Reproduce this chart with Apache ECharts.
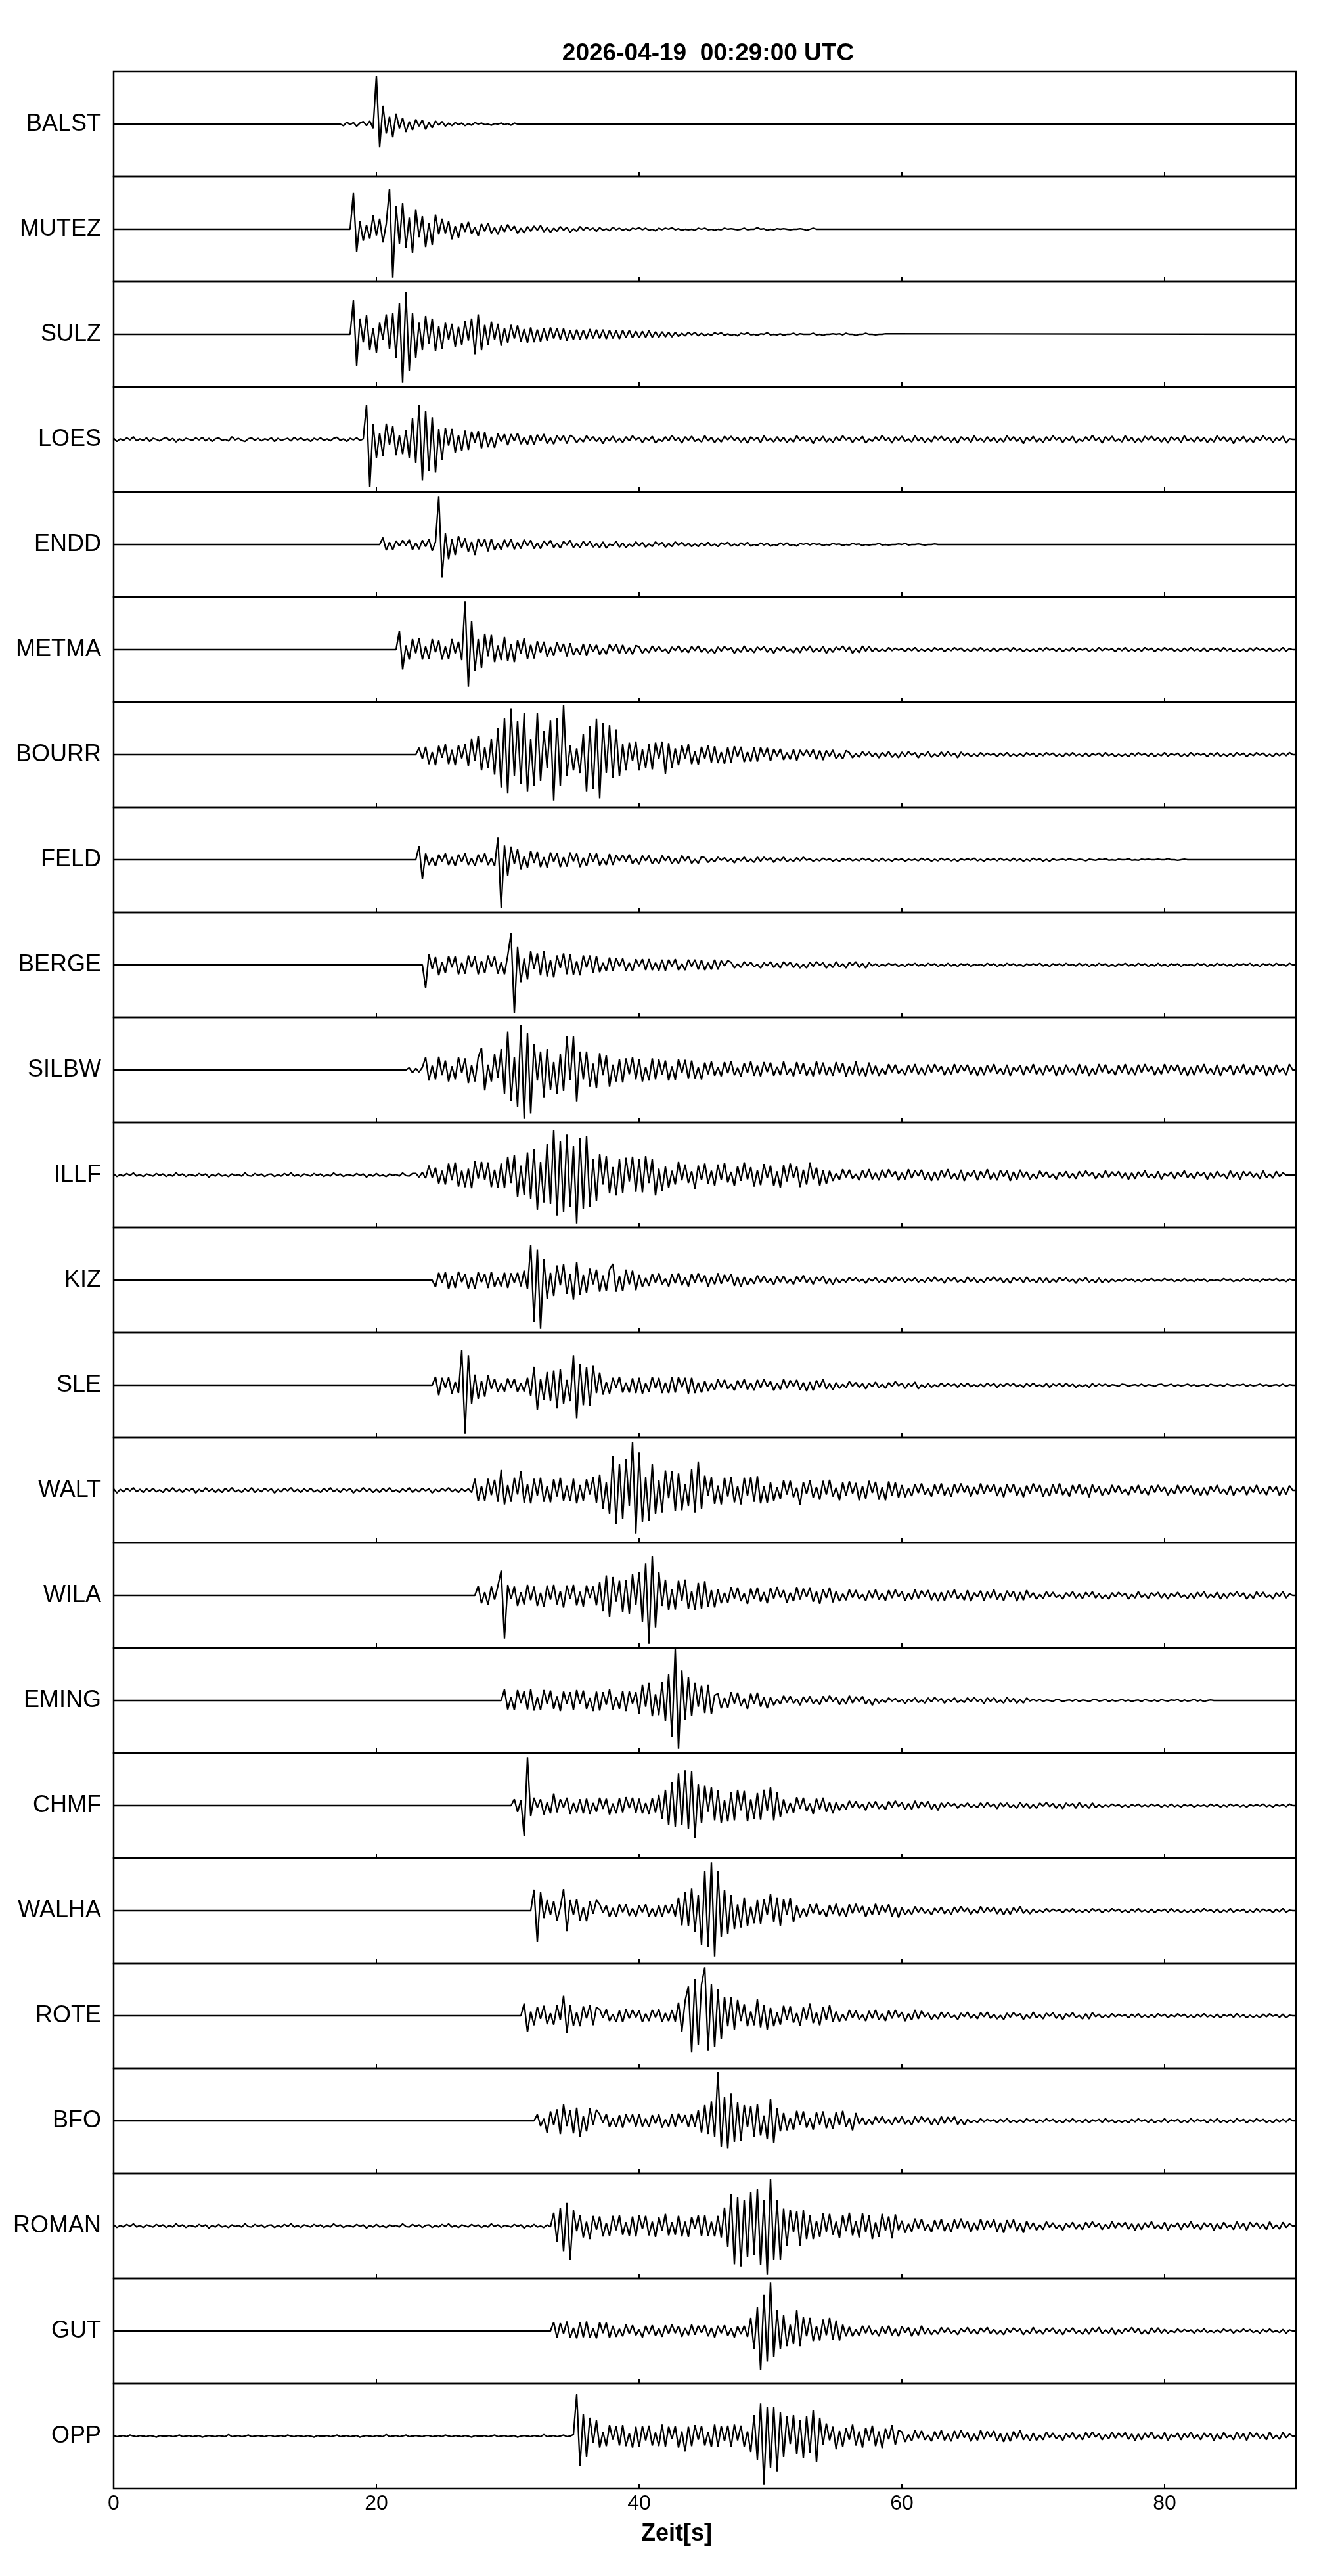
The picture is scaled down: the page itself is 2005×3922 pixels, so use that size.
<!DOCTYPE html>
<html>
<head>
<meta charset="utf-8">
<script src="https://cdn.jsdelivr.net/npm/echarts@6/dist/echarts.min.js"></script>
<style>
html,body{margin:0;padding:0;background:#fff;}
#chart{width:2005px;height:3922px;}
</style>
</head>
<body>
<div id="chart"></div>
<script>
const titleText = '2026-04-19  00:29:00 UTC';
const xAxisName = 'Zeit[s]';
const stations = ['BALST','MUTEZ','SULZ','LOES','ENDD','METMA','BOURR','FELD','BERGE','SILBW','ILLF','KIZ','SLE','WALT','WILA','EMING','CHMF','WALHA','ROTE','BFO','ROMAN','GUT','OPP'];
// start time (s) of each sampled trace; samples every sampleStep seconds
const startTimes = [17,18,18,0,20,21,23,23,23,22,0,24,24,0,27,29,30,31,31,32,0,33,0];
const sampleStep = 0.25;
const timeRange = [0, 90];
const tickStep = 20;

const BALST = [0,0,-3,4, -1,3,-4,2, 5,-3,6,-8, 92,-44,35,-18, 14,-25,20,-8, 12,-15,5,-11, 9,-4,8,-10, 3,-7,6,-2, 5,-4,2,-3, 3,-1,2,-3, 1,-2,3,0, 2,-1,0,-2, 1,0,2,-1, 1,-2,2,0];

const MUTEZ = [0,69,-43,15, -22,8,-18,26, -12,20,-25,10, 77,-92,45,-28, 50,-35,22,-45, 38,-15,25,-34, 12,-30,28,-10, 20,-8,15,-19, 6,-16,12,-5, 14,-9,4,-13, 10,-4,12,-8, 3,-10,7,-5, 9,-3,6,-8, 2,-7,5,-4, 6,-2,7,-5, 3,-6,2,-4, 5,-2,4,-6, 1,-4,5,-2, 4,-1,2,-4, 3,-2,1,-3, 4,-1,2,-2, 1,-3,2,0, 3,-1,2,-2, 0,-3,2,-1, 2,0,3,-1, 1,-2,0,-1, 0,-2,2,0, 2,-1,0,-2, 0,-1,2,0, 1,0,-1,0, 2,-1,0,0, 3,0,1,-2, 0,-1,1,0, 1,0,-1,0, 0,1,0,-2, 0,2,0,0];

const SULZ = [0,65,-60,30, -15,36,-30,12, -35,22,-10,38, -28,40,-45,60, -92,80,-70,40, -45,22,-30,35, -18,30,-32,15, -28,22,-10,20, -24,14,-20,25, -12,30,-38,38, -30,18,-20,24, -10,20,-22,12, -16,18,-8,17, -14,10,-16,13, -15,9,-14,12, -12,13,-8,12, -10,11,-12,7, -10,9,-10,8, -9,10,-8,9, -8,9,-9,8, -8,7,-9,8, -7,8,-7,6, -7,6,-6,7, -6,5,-6,5, -5,4,-5,4, -4,2,-3,4, -1,4,-3,2, -3,1,-2,3, 0,3,-2,1, -2,0,-3,2, 0,3,-1,0, -2,1,0,3, -1,0,-1,1, -2,0,0,2, -1,1,0,0, 0,2,-1,0, -2,0,0,1, 0,1,-1,2, 0,0,-2,0, 0,2,0,0, -1,0,0,1];

const LOES = [2,-4,1,-2, 3,-1,5,-3, 1,-2,3,-4, 2,0,-3,1, 4,-2,2,-5, 1,-3,2,0, -2,3,-1,4, -3,2,-4,1, 3,-2,0,-3, 5,-1,2,-2,
 -4,1,3,-2, 2,-3,1,-1, 3,-4,2,-2, 0,2,-3,4, -1,3,-2,1, -4,2,-1,3, -2,1,-3,2, 4,-2,1,-4, 2,-1,3,-2, 1,66,-91,30,
 -35,12,-32,30, -10,25,-30,8, -28,18,-35,40, -45,66,-78,55, -60,42,-63,20, -40,22,-12,20, -25,8,-22,17, -20,15,-6,16, -17,14,-15,5, -16,11,-4,10,
 -11,10,-3,12, -9,4,-10,8, -10,9,-3,10, -8,3,-9,7, -2,7,-8,8,
 4,-6,2,-5,7,-2,5,-4,3,-8,4,-3,6,-5,2,-6, 5,-3,7,-1,4,-6,3,-2,6,-7,1,-4,5,-3,8,-2, 3,-7,5,-2,6,-4,1,-5,7,-3,4,-6,2,-5,6,-1, 6,-2,4,-5,3,-7,5,-1,4,-6,7,-3,2,-5,5,-4,
 4,-6,2,-5,7,-2,5,-4,3,-8,4,-3,6,-5,2,-6, 5,-3,7,-1,4,-6,3,-2,6,-7,1,-4,5,-3,8,-2, 3,-7,5,-2,6,-4,1,-5,7,-3,4,-6,2,-5,6,-1, 6,-2,4,-5,3,-7,5,-1,4,-6,7,-3,2,-5,5,-4,
 4,-6,2,-5,7,-2,5,-4,3,-8,4,-3,6,-5,2,-6, 5,-3,7,-1,4,-6,3,-2,6,-7,1,-4,5,-3,8,-2, 3,-7,5,-2,6,-4,1,-5,7,-3,4,-6,2,-5,6,-1, 6,-2,4,-5,3,-7,5,-1,4,-6,7,-3,2,-5,5,-4,
 4,-6,2,-5,7,-2,5,-4,3,-8,4,-3,6,-5,2,-6, 5,-3,7,-1,4,-6,3,-2,6,-7,1,0];

const ENDD = [0,0,13,-11, 4,-10,7,-3, 8,-2,9,-10, 3,-9,8,-4, 10,-12,5,92, -63,21,-28,10, -20,16,-6,12, -14,5,-20,11, -4,10,-13,11, -11,3,-10,9, -5,10,-9,4, -8,9,-2,8, -8,3,-8,7, -2,8,-6,3, -7,6,-1,8, -6,2,-6,6, -3,6,-5,2, -6,5,-7,1, -2,6,-5,3, -6,1,-4,5, -3,4,-5,1, -4,5,-1,4, -5,2,-4,5, -1,4,-3,2, -4,1,-4,3, -2,4,-3,1, -4,3,0,4, -3,1,-3,3, -1,4,-3,0, -2,3,-1,2, -3,0,-2,3, -1,3,-2,0, -3,2,0,2, -1,2,0,1, -2,0,-1,2, 0,1,-2,0, -1,2,0,1, -2,0,-1,0, 0,2,-1,0, -1,0,0,1, 0,2,-1,0, 0,1,0,-1, 0,0,1,0];

const METMA = [0,0,0,36, -38,8,-19,20, -7,22,-19,6, -18,20,-5,17, -19,6,-18,20, -7,15,-20,92, -71,55,-41,20, -35,30,-13,28, -24,8,-20,24, -22,10,-24,18, -8,22,-18,9, -17,16,-6,15, -14,5,-12,14, -4,11,-13,12, -11,3,-10,11, -12,10,-4,9, -10,3,-9,10, -2,10,-8,9, -8,4,-9,8,
 5,-7,2,-6,7,-3,6,-4,1,-7,5,-2,7,-5,3,-6, 6,-2,7,-5,3,-6,1,-7,5,-3,6,-1,4,-7,2,-5, 7,-4,2,-6,5,-1,6,-5,3,-7,4,-2,6,-4,1,-6, 4,-6,6,-2,7,-5,2,-4,6,-7,3,-5,5,-1,7,-3, 5,-7,2,-6,7,-3,6,-4,
 3,-4,1,-3,4,-2,3,-1,2,-4,3,-2,4,-3,1,-3, 2,-3,4,-1,3,-4,2,-2,4,-1,3,-3,1,-4,3,-2, 4,-2,1,-3,3,-4,2,-1,3,-3,4,-2,2,-4,1,-3, 1,-4,3,-2,4,-1,2,-3,3,-4,1,-2,4,-3,2,-1,
 3,-4,1,-3,4,-2,3,-1,2,-4,3,-2,4,-3,1,-3, 2,-3,4,-1,3,-4,2,-2,4,-1,3,-3,1,-4,3,-2, 4,-2,1,-3,3,-4,2,-1,3,-3,4,-2,2,-4,1,-3, 1,-4,3,-2,4,-1,2,-3,3,-4,1,-2,4,-3,2,0];

const BOURR = [0,13,-8,15, -18,5,-20,17, -6,20,-18,9, -20,18,-7,20, -22,30,-12,36, -30,14,-26,30, -38,50,-62,70, -74,88,-40,65, -55,79,-71,30, -60,79,-50,45, -25,66,-87,70, -60,94,-40,18, -30,12,-35,40, -71,55,-65,69, -83,60,-35,56, -45,48,-41,20, -30,23,-12,25, -30,10,-25,20, -28,23,-8,25, -36,22,-25,12, -20,18,-7,20, -18,6,-19,15, -7,18,-15,16, -16,5,-17,14, -15,16,-4,15, -14,5,-13,14, -13,14,-4,13, -12,11,-3,11, -10,4,-9,10, -11,9,-2,9, -3,10,-9,8, -10,8,-3,9, -8,2,-8,8,
 4,-6,2,-5,6,-2,5,-4,3,-6,4,-3,6,-5,2,-6, 5,-3,6,-1,4,-6,3,-2,6,-5,1,-4,5,-3,6,-2, 3,-6,5,-2,
 3,-4,1,-3,4,-2,3,-1,2,-4,3,-2,4,-3,1,-3, 2,-3,4,-1,3,-4,2,-2,4,-1,3,-3,1,-4,3,-2, 4,-2,1,-3,3,-4,2,-1,3,-3,4,-2,2,-4,1,-3, 1,-4,3,-2,4,-1,2,-3,3,-4,1,-2,4,-3,2,-1,
 3,-4,1,-3,4,-2,3,-1,2,-4,3,-2,4,-3,1,-3, 2,-3,4,-1,3,-4,2,-2,4,-1,3,-3,1,-4,3,-2, 3,-2,4,0];

const FELD = [0,26,-37,12, -10,4,-12,10, -3,12,-10,5, -12,10,-4,12, -10,3,-12,10, -5,12,-10,3, -12,42,-92,27, -30,25,-8,20, -18,7,-15,17, -6,15,-14,5, -15,14,-4,13, -14,5,-13,14, -3,12,-14,4, -12,13,-4,12, -11,3,-10,11, -10,9,-2,9, -3,10,-8,3, -9,8,-2,8, -8,3,-8,8, -2,7,-8,3, -7,8,-2,7, -7,1,-7,6,
 4,-5,2,-4,5,-1,4,-3,2,-6,3,-2,5,-4,1,-5, 5,-3,5,-1,4,-5,3,-2,5,-4,1,-3,4,-2,5,-1,
 2,-3,1,-2,3,-1,2,-3,1,-3,2,-1,3,-2,1,-2, 3,-1,2,-3,1,-2,3,-2,1,-3,2,-1,2,-3,1,-1, 1,-2,3,-1,2,-3,1,-2,3,-1,2,-2,1,-3,2,-1, 2,-1,3,-2,1,-3,2,-1,2,-2,3,-1,1,-2,3,-2, 2,-3,1,-2,3,-1,2,-3,1,-3,2,-1,
 0,1,-1,2, 0,-1,1,0, -2,1,0,-1, 1,0,2,-1, 0,-1,1,0, 0,2,-1,0, -1,1,0,1, 0,0,1,0, 0,2,0,0, -1,0,1,0];

const BERGE = [0,0,0,-44, 21,-8,15,-20, 6,-16,17,-5, 16,-18,4,-17, 18,-5,16,-18, 7,-16,18,-4, 16,-17,5,-18, 18,60,-92,34, -33,12,-28,26, -8,22,-20,26, -22,9,-24,18, -6,22,-18,20, -19,7,-20,18, -5,18,-16,17, -14,4,-12,14, -12,13,-3,12, -11,4,-12,11, -3,11,-10,11, -10,4,-11,10, -11,10,-3,11, -10,2,-10,10, -3,10,-9,9, -10,4,-9,10, -9,8,-2,8,
 5,-6,2,-5,6,-2,5,-4,1,-6,4,-2,6,-5,3,-6, 6,-2,5,-5,3,-6,1,-6,5,-3,6,-1,4,-6,2,-5, 6,-4,2,-6,5,-1,6,-5,3,-6,4,-2,
 2,-3,1,-2,3,-1,2,-3,1,-3,2,-1,3,-2,1,-2, 3,-1,2,-3,1,-2,3,-2,1,-3,2,-1,2,-3,1,-1, 1,-2,3,-1,2,-3,1,-2,3,-1,2,-2,1,-3,2,-1, 2,-1,3,-2,1,-3,2,-1,2,-2,3,-1,1,-2,3,-2,
 2,-3,1,-2,3,-1,2,-3,1,-3,2,-1,3,-2,1,-2, 3,-1,2,-3,1,-2,3,-2,1,-3,2,-1,2,-3,1,-1, 1,-2,3,-1,2,-3,1,-2,3,-1,2,-2,1,-3,2,-1, 2,-1,3,-2,1,-3,2,-1,2,-2,3,-1,1,-2,3,0];

const SILBW = [0,0,4,-5, 3,-4,5,24, -20,8,-18,25, -10,18,-22,7, -18,24,-6,22, -25,9,-22,24, 42,-39,10,-22, 30,-15,40,-45, 73,-60,25,-70, 86,-92,70,-83, 50,-20,35,-52, 40,-38,15,-45, 30,-40,65,-20, 64,-61,35,-18, 35,-32,12,-35, 32,-10,28,-32, 10,-22,20,-24, 22,-8,24,-18, 20,-22,6,-20, 22,-18,20,-9, 18,-20,7,-19, 20,-6,19,-17, 18,-17,5,-18,
 14,-8,16,-11,5,-12,15,-6,17,-10,4,-12, 13,-5,16,-11,8,-12,15,-4,14,-11,6,-10, 16,-9,3,-12,15,-7,13,-11,5,-12,16,-8, 14,-10,6,-11,15,-5,13,-12,7,-9,16,-11, 4,-12,14,-8,
 8,-11,3,-9,11,-4,10,-7,2,-10,9,-5,11,-8,4,-10, 10,-5,11,-3,7,-10,4,-8,11,-6,9,-2,10,-9,5,-11, 6,-10,9,-4,11,-7,3,-9,10,-11,5,-3,9,-10,7,-5, 11,-8,4,-10,9,-3,8,-11,6,-9,10,-4,3,-10,11,-7,
 8,-11,3,-9,11,-4,10,-7,2,-10,9,-5,11,-8,4,-10, 10,-5,11,-3,7,-10,4,-8,11,-6,9,-2,10,-9,5,-11, 6,-10,9,-4,11,-7,3,-9,10,-11,5,-3,9,-10,7,-5, 11,-8,4,-10,9,-3,8,-11,6,-9,10,-4,3,-10,11,0];

const ILLF = [2,-3,1,-2,3,-1,4,-2,1,-3,2,0,-2,3,-1,2, -3,1,-2,4,-1,2,-3,1,0,-2,3,-1,2,-4,1,-2, 3,-2,0,-3,2,-1,1,-2,4,-1,-2,3,-1,2,-3,1, 2,-3,1,-2,3,-1,4,-2,1,-3,2,0,-2,3,-1,2, -3,1,-2,4,-1,2,-3,1,0,-2,3,-1,2,-4,1,-2, 3,-2,0,-3,2,-1,1,-2,4,-1,-2,3,
 3,-4,5,-6, 18,-5,14,-16, 8,-18,22,-10, 24,-22,8,-23, 12,-25,26,-7, 25,-9,24,-23, 10,-24,22,-25, 35,-15,38,-42, 18,-38,43,-45, 50,-66,25,-52, 60,-55,86,-77, 65,-70,77,-60, 55,-92,70,-64, 75,-60,30,-50, 40,-18,36,-35, 15,-39,30,-34, 33,-12,35,-32, 30,-33,36,-15, 30,-39,12,-30,
 16,-24,8,-18,25,-10,20,-15,7,-26,18,-9,22,-16,8,-20, 20,-9,23,-14,6,-21,17,-11,24,-8,15,-22,9,-19,21,-6, 18,-21,7,-24,19,-12,22,-5,16,-23,10,-18,24,-8, 14,-20,9,-17,
 8,-11,3,-9,11,-4,10,-7,2,-10,9,-5,11,-8,4,-10, 10,-5,11,-3,7,-10,4,-8,11,-6,9,-2,10,-9,5,-11, 6,-10,9,-4,11,-7,3,-9,10,-11,5,-3,9,-10,7,-5, 11,-8,4,-10,9,-3,8,-11,6,-9,10,-4,
 6,-8,2,-7,8,-3,6,-5,2,-8,5,-3,7,-6,3,-7, 7,-3,8,-2,5,-7,3,-5,8,-4,6,-2,7,-6,4,-8, 4,-7,6,-3,8,-5,2,-6,7,-8,3,-2,6,-7,5,-3, 8,-5,3,-7,6,-2,5,-8,4,-6,7,-3,2,-7,8,-4, 5,-8,7,-2,6,-4,3,-7,8,-5,2,-6,7,-3,4,0];

const KIZ = [0,0,-13,14, -5,15,-17,8, -15,16,-4,12, -16,6,-17,15, -4,12,-15,16, -13,5,-12,14, -15,13,-5,14, -12,18,-17,67, -80,58,-92,40, -35,14,-30,28, -10,30,-26,12, -37,35,-28,10, -24,22,-8,20, -22,9,-21,20, 31,-22,8,-21, 20,-8,18,-19,
 10,-13,4,-11,12,-5,13,-8,3,-12,11,-6,13,-10,5,-12, 12,-5,13,-4,9,-12,6,-8,13,-7,10,-3,12,-11,6,-13,
 6,-9,3,-7,9,-4,8,-5,3,-9,7,-4,8,-6, 2,-8,7,-3,9,-5,4,-8,6,-2,8,-7,3,-9,
 4,-5,2,-4,5,-1,4,-3,2,-6,3,-2,5,-4,1,-5, 5,-3,6,-1,4,-5,3,-2,5,-4,1,-4,5,-3,6,-2, 3,-6,5,-2,5,-4,1,-5,6,-3,4,-5,2,-5,5,-1, 6,-2,4,-5,3,-6,5,-1,4,-5,6,-3,2,-5,5,-4, 4,-5,2,-4,5,-1,4,-3,2,-6,3,-2,5,-4,1,-5, 4,-5,2,-4,
 2,-3,1,-2,3,-1,2,-3,1,-3,2,-1,3,-2,1,-2, 3,-1,2,-3,1,-2,3,-2,1,-3,2,-1,2,-3,1,-1, 1,-2,3,-1,2,-3,1,-2,3,-1,2,-2,1,-3,2,-1, 2,-1,3,-2,1,-3,2,0];

const SLE = [0,0,16,-19, 14,-5,15,-16, 6,-15,67,-92, 57,-35,20,-26, 8,-22,19,-7, 12,-13,4,-12, 13,-5,12,-13, 4,-12,14,-20, 35,-47,12,-28, 25,-30,28,-44, 30,-35,10,-30, 57,-63,41,-38, 35,-40,38,-15, 24,-18,6,-16, 14,-5,16,-14, 5,-14,13,-15, 14,-16,4,-13, 16,-6,14,-15, 5,-15,16,-14, 15,-4,14,-16, 14,-15,5,-14,
 8,-11,3,-9,11,-4,10,-7,2,-10,9,-5,11,-8,4,-10, 10,-5,11,-3,7,-10,4,-8,11,-6,9,-2,10,-9,5,-11, 6,-10,9,-4,11,-7,3,-9,
 5,-6,2,-5,7,-2,5,-4,3,-7,4,-3,6,-5, 2,-6,5,-3,7,-1,4,-6,3,-2,6,-7,1,-4,
 3,-4,1,-3,4,-2,3,-1,2,-4,3,-2,4,-3,1,-3, 2,-3,4,-1,3,-4,2,-2,4,-1,3,-3,1,-4,3,-2, 4,-2,1,-3,3,-4,2,-1,3,-3,4,-2,2,-4,1,-3, 1,-4,3,-2,
 2,-1,2,-2,1,0,-2,2,1,-2,0,1,-1,2,-2,1, 0,-2,1,2,-1,0,2,-2,1,-1,0,2,-1,1,-2,0, 1,-2,2,0,-1,1,-2,2,0,-1,1,0,2,-2,1,-1, 0,2,-1,1,-2,0,1,-1,2,-2,1,0];

const WALT = [3,-5,2,-3,4,-1,5,-3,2,-4,3,-2,4,-3,1,-4, 4,-2,5,-3,2,-4,3,-1,4,-5,2,-3,5,-2,3,-4, 2,-4,4,-2,5,-3,1,-4,3,-2,5,-4,2,-3,4,-1, 3,-5,2,-3,4,-1,5,-3,2,-4,3,-2,4,-3,1,-4, 4,-2,5,-3,2,-4,3,-1,4,-5,2,-3,5,-2,3,-4, 2,-4,4,-2,5,-3,1,-4,3,-2,5,-4,2,-3,4,-1, 3,-5,2,-3,4,-1,5,-3,2,-4,3,-2,
 3,-4,22,-21, 8,-20,22,-9, 20,-22,39,-27, 10,-22,24,-8, 37,-24,12,-25, 22,-10,24,-22, 8,-23,21,-12, 24,-20,9,-21, 22,-25,10,-20, 21,-8,25,-24, 30,-35,15,-45, 65,-65,50,-55, 60,-30,92,-82, 72,-60,25,-58, 50,-45,20,-42, 38,-15,36,-40, 32,-38,12,-30, 40,-42,54,-35, 28,-10,25,-26, 9,-27,24,-12, 26,-23,8,-27, 24,-10,25,-22, 27,-25,8,-24,
 15,-20,6,-17,19,-8,18,-13,5,-28,16,-7,19,-14,6,-18, 18,-8,20,-12,5,-19,15,-10,17,-6,14,-19,8,-16,18,-5, 16,-18,6,-19,17,-10,15,-14,
 10,-13,4,-11,12,-5,13,-8,3,-12,11,-6,13,-10,5,-12, 12,-5,13,-4,9,-12,6,-8,13,-7,10,-3,12,-11,6,-13, 11,-4,12,-10,5,-13,9,-6,13,-3,10,-12,4,-11,12,-7, 13,-9,3,-12,10,-5,12,-8,6,-13,11,-4,
 7,-10,3,-8,10,-4,9,-6,2,-9,8,-4,10,-7,3,-9, 9,-4,10,-2,6,-9,3,-7,10,-5,8,-2,9,-8,4,-10, 5,-9,8,-3,10,-6,2,-8,9,-10,4,-3,8,-9,6,-4, 10,-7,3,-9,8,-2,7,-10,5,-8,9,0];

const WILA = [0,0,0,18, -15,6,-18,17, -8,18,47,-82, 20,-7,17,-20, 6,-17,20,-9, 17,-20,5,-22, 19,-8,20,-17, 8,-23,19,-6, 20,-19,7,-21, 19,-5,17,-19, 25,-30,38,-41, 35,-12,28,-32, 30,-35,40,-18, 45,-50,61,-92, 75,-61,45,-20, 30,-28,12,-27, 28,-10,30,-26, 8,-28,24,-25, 27,-22,10,-23,
 12,-15,5,-14,16,-6,15,-11,4,-16,13,-7,15,-12,6,-15, 14,-6,16,-4,10,-14,5,-11,16,-8,13,-3,15,-12,7,-16, 12,-5,15,-13,
 8,-11,3,-9,11,-4,10,-7,2,-10,9,-5,11,-8,4,-10, 10,-5,11,-3,7,-10,4,-8,11,-6,9,-2,10,-9,5,-11, 6,-10,9,-4,11,-7,3,-9,10,-11,5,-3,9,-10,7,-5, 11,-8,4,-10,9,-3,8,-11,6,-9,10,-4,
 5,-7,2,-6,7,-3,6,-4,1,-7,5,-2,7,-5,3,-6, 6,-2,7,-5,3,-6,1,-7,5,-3,6,-1,4,-7,2,-5, 7,-4,2,-6,5,-1,6,-5,3,-7,4,-2,6,-4,1,-6, 4,-6,6,-2,7,-5,2,-4,6,-7,3,-5,5,-1,7,-3, 5,-7,2,-6,7,-3,6,-4,1,-7,5,-2,7,-5,3,0];

const EMING = [0,0,0,21, -17,6,-18,20, -5,18,-17,21, -19,6,-18,20, -7,19,-16,8, -20,17,-6,16, -18,20,-7,19, -16,5,-20,17, -19,16,-8,21, -17,7,-16,18, -20,17,-6,16, -25,30,-12,34, -30,12,-28,35, -40,50,-70,98, -92,57,-37,45, -30,34,-12,28, -24,30,-26,10,
 13,-15,5,-14,16,-6,15,-11,4,-16,13,-7,15,-12,6,-15,
 6,-9,3,-7,9,-4,8,-5,3,-9,7,-4,8,-6,2,-8, 8,-3,9,-2,6,-8,4,-7,9,-5,7,-2,8,-7,3,-9,
 4,-5,2,-4,5,-1,4,-3,2,-6,3,-2,5,-4,1,-5, 5,-3,6,-1,4,-5,3,-2,5,-4,1,-4,5,-3,6,-2, 3,-6,5,-2,5,-4,1,-5,6,-3,4,-5,2,-5,5,-1,
 2,-1,2,-2,1,0,-2,2,1,-2,0,1,-1,2,-2,1, 0,-2,1,2,-1,0,2,-2,1,-1,0,2,-1,1,-2,0, 1,-2,2,0,-1,1,-2,2,0,-1,1,0,2,-2,1,-1, 0,2,-1,1,-2,0,1,0];

const CHMF = [0,0,12,-12, 10,-58,92,-20, 15,-4,12,-17, 6,-15,23,-13, 12,-4,15,-16, 5,-13,12,-15, 13,-16,5,-12, 15,-6,13,-17, 4,-15,14,-13, 16,-5,15,-14, 13,-15,5,-16, 14,-13,20,-25, 30,-37,45,-40, 61,-37,67,-45, 65,-62,41,-33, 38,-12,35,-28, 30,-33,10,-30, 25,-28,30,-9, 28,-30,12,-25, 24,-27,30,-10, 35,-28,25,-22,
 12,-15,5,-14,16,-6,15,-11,4,-16,13,-7,15,-12,6,-15,
 6,-9,3,-7,9,-4,8,-5,3,-9,7,-4,8,-6,2,-8, 8,-3,9,-2,6,-8,4,-7,9,-5,7,-2,8,-7,3,-9,
 5,-3,6,-1,4,-5,3,-2,5,-4,1,-4,5,-3,6,-2, 3,-6,5,-2,5,-4,1,-5,6,-3,4,-5,2,-5,5,-1, 6,-2,4,-5,3,-6,5,-1,4,-5,6,-3,2,-5,5,-4,
 2,-3,1,-2,3,-1,2,-3,1,-3,2,-1,3,-2,1,-2, 3,-1,2,-3,1,-2,3,-2,1,-3,2,-1,2,-3,1,-1, 1,-2,3,-1,2,-3,1,-2,3,-1,2,-2,1,-3,2,-1, 2,-1,3,-2,1,-3,2,-1,2,-2,3,0];

const WALHA = [0,0,0,0, 40,-60,35,-14, 20,-8,18,-19, 6,41,-39,20, -8,22,-19,7, -20,18,-6,20, 12,-4,10,-12, 5,-12,12,-3, 12,-10,4,-11, 10,-3,12,-11, 4,-11,10,-12, 11,-5,12,-11, 25,-28,35,-30, 42,-40,30,-65, 75,-70,92,-87, 76,-50,40,-45, 30,-35,12,-32, 25,-29,8,-24, 20,-25,22,-8, 32,-22,25,-29, 22,-8,24,-22,
 10,-13,4,-11,12,-5,13,-8,3,-12,11,-6,13,-10,5,-12, 12,-5,13,-4,9,-12,6,-8,13,-7,10,-3,12,-11,6,-13,
 6,-8,2,-7,8,-3,6,-5,2,-8,5,-3,7,-6,3,-7, 7,-3,8,-2,5,-7,3,-5,8,-4,6,-2,7,-6,4,-8, 4,-7,6,-3,8,-5,2,-6,
 3,-4,1,-3,4,-2,3,-1,2,-4,3,-2,4,-3,1,-3, 2,-3,4,-1,3,-4,2,-2,4,-1,3,-3,1,-4,3,-2, 4,-2,1,-3,3,-4,2,-1,3,-3,4,-2,2,-4,1,-3, 1,-4,3,-2,4,-1,2,-3,3,-4,1,-2,4,-3,2,-1, 3,-4,1,-3,4,-2,3,-1,2,-4,3,-2,4,-3,1,0];

const ROTE = [0,23,-31,8, -18,17,-6,19, -16,5,-17,20, -8,38,-33,20, -19,7,-20,18, -5,20,-18,16, 12,-4,12,-10, 3,-12,10,-12, 12,-5,11,-3, 10,-12,4,-10, 11,-3,12,-12, 5,-10,11,-11, 25,-30,28,56, -69,70,-55,60, 92,-66,60,-60, 50,-45,36,-20, 36,-26,30,-10, 22,-20,8,-18, 31,-22,20,-26,
 15,-20,6,-17,19,-8,18,-13,5,-19,16,-7,23,-14,6,-18, 17,-8,20,-12,
 8,-11,3,-9,11,-4,10,-7,2,-10,9,-5,11,-8,4,-10, 10,-5,11,-3,7,-10,4,-8,11,-6,9,-2,
 5,-7,2,-6,7,-3,6,-4,1,-7,5,-2,7,-5,3,-6, 6,-2,7,-5,3,-6,1,-7,5,-3,6,-1,4,-7,2,-5, 7,-4,2,-6,5,-1,6,-5,3,-7,4,-2,6,-4,1,-6, 4,-6,6,-2,
 3,-4,1,-3,4,-2,3,-1,2,-4,3,-2,4,-3,1,-3, 2,-3,4,-1,3,-4,2,-2,4,-1,3,-3,1,-4,3,-2, 4,-2,1,-3,3,-4,2,-1,3,-3,4,-2,2,-4,1,-3, 1,-4,3,-2,4,-1,2,-3,3,-4,1,0];

const BFO = [0,12,-10,4, -23,18,-8,22, -25,31,-10,20, -24,25,-31,9, -20,24,-8,21, 12,-4,13,-12, 5,-12,11,-13, 12,-3,12,-11, 13,-11,4,-12, 11,-5,12,-13, 3,-11,13,-11, 14,-4,11,-12, 13,-11,20,-22, 30,-25,37,-30, 93,-50,45,-53, 52,-40,35,-38, 30,-12,28,-30, 32,-28,10,-35, 42,-42,24,-20,
 15,-18,6,-17,19,-8,18,-13,5,-17,16,-7, 18,-14,6,-16,17,-8,19,-12,5,-18,15,-6,
 6,-8,3,-7,8,-4,8,-5,3,-8,7,-4,8,-6,2,-8, 8,-3,8,-2,6,-8,4,-7,8,-5,7,-2,8,-7,3,-8,
 3,-4,1,-3,4,-2,3,-1,2,-4,3,-2,4,-3,1,-3, 2,-3,4,-1,3,-4,2,-2,4,-1,3,-3,1,-4,3,-2, 4,-2,1,-3,3,-4,2,-1,3,-3,4,-2,2,-4,1,-3, 1,-4,3,-2,4,-1,2,-3,3,-4,1,-2,4,-3,2,-1, 3,-4,1,-3,4,-2,3,-1,2,-4,3,-2,4,-3,1,-3, 2,-3,4,-1,3,-4,2,-2,4,-1,3,-3,1,-4,3,-2, 3,-2,4,0];

const ROMAN = [2,-3,1,-2,3,-1,4,-2,1,-3,2,0,-2,3,-1,2, -3,1,-2,4,-1,2,-3,1,0,-2,3,-1,2,-4,1,-2, 3,-2,0,-3,2,-1,1,-2,4,-1,-2,3,-1,2,-3,1, 2,-3,1,-2,3,-1,4,-2,1,-3,2,0,-2,3,-1,2, -3,1,-2,4,-1,2,-3,1,0,-2,3,-1,2,-4,1,-2, 3,-2,0,-3,2,-1,1,-2,4,-1,-2,3,-1,2,-3,1, 2,-3,1,-2,3,-1,4,-2,1,-3,2,0,-2,3,-1,2, -3,1,-2,4,-1,2,-3,1,0,-2,3,-1,2,-4,1,-2, 3,-2,0,-3,
 2,-2,25,-30, 35,-48,44,-65, 30,-10,21,-22, 8,-25,19,-7, 18,-20,6,-19, 19,-8,20,-17, 7,-19,18,-20, 20,-6,19,-18, 8,-21,17,-9, 23,-18,7,-17, 19,-20,8,-21, 17,-6,20,-19, 20,-19,8,-20, 19,-22,35,-40, 60,-73,55,-77, 50,-60,65,-55, 70,-75,50,-92, 90,-65,50,-65, 33,-38,31,-12, 28,-38,30,-25,
 20,-25,9,-21,24,-11,23,-17,8,-23,21,-10, 25,-18,9,-22,24,-12,20,-25,7,-21,23,-9,18,-24,22,-8,
 10,-13,4,-11,14,-5,13,-8,3,-12,11,-6,13,-10,5,-12, 12,-5,14,-4,9,-12,6,-8,13,-7,10,-3,12,-11,6,-13, 11,-4,12,-10,5,-13,9,-6,
 6,-8,2,-7,8,-3,6,-5,2,-8,5,-3,7,-6,3,-7, 7,-3,8,-2,5,-7,3,-5,8,-4,6,-2,7,-6,4,-8, 4,-7,6,-3,8,-5,2,-6,7,-8,3,-2,6,-7,5,-3, 8,-5,3,-7,6,-2,5,-8,4,-6,7,-3,2,-7,8,-4, 5,-8,7,-2,6,-4,3,-7,8,-5,2,-6,7,-3,4,0];

const GUT = [0,0,17,-13, 15,-5,18,-13, 6,-14,17,-12, 18,-13,5,-14, 17,-4,16,-13,
 10,-11,4,-10,12,-5,11,-8,3,-12,10,-6,11,-9,5,-11, 11,-5,12,-4,9,-11,6,-8,12,-7,10,-3,11,-10,6,-12, 10,-4,11,-9,5,-12,9,-6,
 10,-11,25,-35, 45,-75,69,-58, 92,-50,40,-35, 30,-29,12,-25, 40,-29,26,-10, 25,-19,9,-18, 22,-8,25,-17, 20,-18,12,-10,
 8,-10,3,-9,10,-4,10,-7,2,-10,9,-5, 10,-8,4,-10,9,-3,7,-10,4,-8,10,-6,
 5,-7,2,-6,7,-3,6,-4,1,-7,5,-2,7,-5,3,-6, 6,-2,7,-5,3,-6,1,-7,5,-3,6,-1,4,-7,2,-5, 7,-4,2,-6,5,-1,6,-5,3,-7,4,-2,6,-4,1,-6, 4,-6,6,-2,7,-5,2,-4,6,-7,3,-5,5,-1,7,-3, 5,-6,2,-6,6,-3,6,-4,
 3,-4,1,-3,4,-2,3,-1,2,-4,3,-2,4,-3,1,-3, 2,-3,4,-1,3,-4,2,-2,4,-1,3,-3,1,-4,3,-2, 4,-2,1,-3,3,-4,2,0];

const OPP = [1,-1,0,1,-1,2,0,-1,1,0,-1,1,0,-2,1,0, 0,1,-1,0,2,-1,0,1,-1,0,1,-2,0,1,0,-1, 1,0,-1,3,-1,0,1,-1,0,2,-1,0,1,0,-1,1, 1,-1,0,1,-1,2,0,-1,1,0,-1,1,0,-2,1,0, 0,1,-1,0,2,-1,0,1,-1,0,1,-2,0,1,0,-1, 1,0,-1,3,-1,0,1,-1,0,2,-1,0,1,0,-1,1, 1,-1,0,1,-1,2,0,-1,1,0,-1,1,0,-2,1,0, 0,1,-1,0,2,-1,0,1,-1,0,1,-2,0,1,0,-1, 1,0,-1,3,-1,0,1,-1,0,2,-1,0,
 3,80,-57,42, -40,35,-13,30, -22,8,-19,21, -7,19,-18,21, -19,6,-22,18, -21,19,-8,20, -18,7,-19,22, -20,18,-6,19, -22,9,-29,18, -19,21,-7,19, -18,8,-21,22, -20,19,-9,20, -21,22,-8,20, -20,9,-30,40, -45,62,-92,55, -60,55,-67,45, -40,38,-15,40, -35,30,-42,38, -32,50,-50,35,
 -16,24,-8,18,-25,10,-20,15,-7,22,-18,9, -22,16,-8,20,-19,9,-23,14,-6,21,-17,11,
 8,-11,3,-9,11,-4,10,-7,2,-10,9,-5,11,-8,4,-10, 10,-5,11,-3,7,-10,4,-8,11,-6,9,-2,10,-9,5,-11, 6,-10,9,-4,11,-7,3,-9,
 6,-8,2,-7,8,-3,6,-5,2,-8,5,-3,7,-6,3,-7, 7,-3,8,-2,5,-7,3,-5,8,-4,6,-2,7,-6,4,-8, 4,-7,6,-3,8,-5,2,-6,7,-8,3,-2,6,-7,5,-3, 8,-5,3,-7,6,-2,5,-8,4,-6,7,-3,2,-7,8,-4, 5,-8,7,-2,6,-4,3,-7,8,-5,2,-6,7,-3,4,0];

const traces = [BALST,MUTEZ,SULZ,LOES,ENDD,METMA,BOURR,FELD,BERGE,SILBW,ILLF,KIZ,SLE,WALT,WILA,EMING,CHMF,WALHA,ROTE,BFO,ROMAN,GUT,OPP];

const FONT = '"Liberation Sans", Arial, Helvetica, sans-serif';
const chart = echarts.init(document.getElementById('chart'), null, {renderer: 'canvas'});

const plotLeft = 173, plotWidth = 1800, plotTop = 109, rowH = 160;
const n = stations.length;
const grid = [], xAxis = [], yAxis = [], series = [];

for (let i = 0; i < n; i++) {
  grid.push({left: plotLeft, width: plotWidth, top: plotTop + i * rowH, height: rowH,
    show: true, borderColor: '#000', borderWidth: 2.5, backgroundColor: 'transparent'});
  xAxis.push({gridIndex: i, type: 'value', min: timeRange[0], max: timeRange[1], interval: tickStep,
    axisLine: {show: false, onZero: false}, splitLine: {show: false},
    axisTick: {show: true, inside: true, length: 7, lineStyle: {color: '#000', width: 2}},
    axisLabel: {show: i === n - 1, showMaxLabel: false, color: '#000', fontSize: 32, fontFamily: FONT, margin: 7,
      formatter: v => (v % tickStep === 0 ? String(v) : '')}
  });
  yAxis.push({gridIndex: i, type: 'value', min: -100, max: 100,
    axisLine: {show: false}, axisTick: {show: false}, axisLabel: {show: false}, splitLine: {show: false},
    name: stations[i], nameLocation: 'middle', nameRotate: 0, nameGap: 19,
    nameTextStyle: {color: '#000', fontSize: 36, fontFamily: FONT, align: 'right', verticalAlign: 'middle'}
  });
  const vals = traces[i];
  const t0 = startTimes[i];
  const pts = [];
  if (t0 > timeRange[0]) pts.push([timeRange[0], 0]);
  for (let k = 0; k < vals.length; k++) pts.push([t0 + k * sampleStep, vals[k]]);
  const tEnd = t0 + (vals.length - 1) * sampleStep;
  if (tEnd < timeRange[1]) pts.push([timeRange[1], 0]);
  series.push({type: 'line', xAxisIndex: i, yAxisIndex: i, data: pts, symbol: 'none', showSymbol: false,
    silent: true, animation: false, lineStyle: {color: '#000', width: 2.3}, z: 3});
}

chart.setOption({
  backgroundColor: '#fff',
  animation: false,
  grid, xAxis, yAxis, series,
  graphic: [
    {type: 'text', x: 1078, y: 82, style: {text: titleText, fill: '#000', fontSize: 37, fontWeight: 'bold', fontFamily: FONT,
      align: 'center', verticalAlign: 'middle', textAlign: 'center', textVerticalAlign: 'middle'}},
    {type: 'text', x: 1030, y: 3858, style: {text: xAxisName, fill: '#000', fontSize: 36, fontWeight: 'bold', fontFamily: FONT,
      align: 'center', verticalAlign: 'middle', textAlign: 'center', textVerticalAlign: 'middle'}}
  ]
});
</script>
</body>
</html>
